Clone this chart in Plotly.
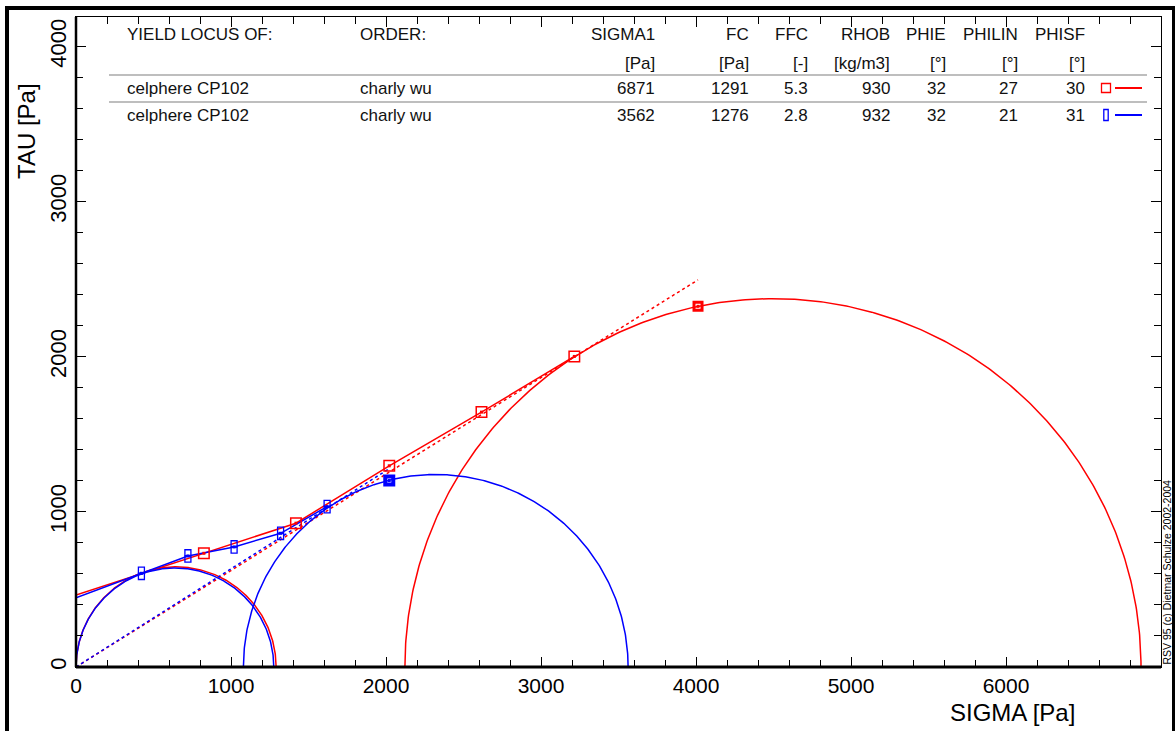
import numpy as np
import plotly.graph_objects as go

# ---- sample table -------------------------------------------------------
SAMPLES = ["celphere CP102", "celphere CP102"]
OPERATOR = ["charly wu", "charly wu"]
SIGMA1 = [6871, 3562]      # major principal stress at steady state [Pa]
SIGMA2 = [2122, 1080]      # minor principal stress at steady state [Pa]
FC = [1291, 1276]          # unconfined yield strength [Pa]
FFC = [5.3, 2.8]
RHOB = [930, 932]
PHIE = [32, 32]
PHILIN = [27, 21]
PHISF = [30, 31]

# ---- shear test points (normal stress / shear stress) [Pa] ---------------
RED_SIGMA = [825, 1419, 2021, 2616, 3215]
RED_TAU = [733, 927, 1297, 1643, 2002]
RED_PRESHEAR = [4013, 2325]
BLUE_SIGMA = [422, 722, 1020, 1320, 1620]
BLUE_TAU = [604, 716, 774, 862, 1034]
BLUE_PRESHEAR = [2021, 1202]

X_TICKS = [0, 1000, 2000, 3000, 4000, 5000, 6000]
Y_TICKS = [0, 1000, 2000, 3000, 4000]

COLORS = ["#ff0000", "#0000ff"]
FONT = "Liberation Sans, Arial, sans-serif"

W, H = 1175, 731
L, R, T, B = 76, 14, 17, 64
X_RANGE = [0, 7000]
Y_RANGE = [0, 4190]
PW, PH = W - L - R, H - T - B
TAU_PER_PX = (Y_RANGE[1] - Y_RANGE[0]) / PH


def px(xp):
    return (xp - L) / PW


def py(yp):
    return (H - B - yp) / PH


def semicircle(lo, hi, n=400):
    c, r = (lo + hi) / 2, (hi - lo) / 2
    th = np.linspace(np.pi, 0, n)
    return c + r * np.cos(th), r * np.sin(th)


def effective_slope(lo, hi):
    c, r = (lo + hi) / 2, (hi - lo) / 2
    s = r / c
    return s / np.sqrt(1 - s * s)


fig = go.Figure()

series = [
    (RED_SIGMA, RED_TAU, RED_PRESHEAR),
    (BLUE_SIGMA, BLUE_TAU, BLUE_PRESHEAR),
]

for i, (sig, tau, pre) in enumerate(series):
    col = COLORS[i]
    # Mohr circles: unconfined yield strength and steady-state flow
    for lo, hi in [(0, FC[i]), (SIGMA2[i], SIGMA1[i])]:
        cx, cy = semicircle(lo, hi)
        fig.add_trace(go.Scatter(x=cx, y=cy, mode="lines",
                                 line=dict(color=col, width=1.5),
                                 hoverinfo="skip", showlegend=False))
    # effective yield locus through the origin
    k = effective_slope(SIGMA2[i], SIGMA1[i])
    fig.add_trace(go.Scatter(x=[0, pre[0]], y=[0, k * pre[0]], mode="lines",
                             line=dict(color=col, width=1.5, dash="dot"),
                             hoverinfo="skip", showlegend=False))
    # yield locus: measured points, extended to sigma = 0
    slope0 = (tau[1] - tau[0]) / (sig[1] - sig[0])
    tau0 = tau[0] - slope0 * sig[0]
    fig.add_trace(go.Scatter(x=[0] + sig, y=[tau0] + tau, mode="lines",
                             line=dict(color=col, width=1.5),
                             hoverinfo="skip", showlegend=False))

# red shear points
fig.add_trace(go.Scatter(x=RED_SIGMA, y=RED_TAU, mode="markers",
                         marker=dict(symbol="square-open", size=10.5, color=COLORS[0],
                                     line=dict(width=1.5, color=COLORS[0])),
                         showlegend=False))
fig.add_trace(go.Scatter(x=[RED_PRESHEAR[0]], y=[RED_PRESHEAR[1]], mode="markers",
                         marker=dict(symbol="square-open", size=8, color=COLORS[0],
                                     line=dict(width=3, color=COLORS[0])),
                         showlegend=False))

# blue shear points: narrow upright boxes (two stacked cells)
off = 3.2 * TAU_PER_PX
for d in (-off, off):
    fig.add_trace(go.Scatter(x=BLUE_SIGMA, y=[t + d for t in BLUE_TAU], mode="markers",
                             marker=dict(symbol="square-open", size=6, color=COLORS[1],
                                         line=dict(width=1.3, color=COLORS[1])),
                             showlegend=False))
fig.add_trace(go.Scatter(x=[BLUE_PRESHEAR[0]], y=[BLUE_PRESHEAR[1]], mode="markers",
                         marker=dict(symbol="square-open", size=8, color=COLORS[1],
                                     line=dict(width=4, color=COLORS[1])),
                         showlegend=False))

# centre dots of all points
fig.add_trace(go.Scatter(x=RED_SIGMA + [RED_PRESHEAR[0]], y=RED_TAU + [RED_PRESHEAR[1]],
                         mode="markers", marker=dict(symbol="square", size=3, color=COLORS[0]),
                         showlegend=False))
fig.add_trace(go.Scatter(x=BLUE_SIGMA + [BLUE_PRESHEAR[0]], y=BLUE_TAU + [BLUE_PRESHEAR[1]],
                         mode="markers", marker=dict(symbol="square", size=3, color=COLORS[1]),
                         showlegend=False))

# ---- table ---------------------------------------------------------------
ann = []
tfont = dict(family=FONT, size=17, color="#111111")


def cell(text, xp, yp, anchor):
    ann.append(dict(text=text, x=px(xp), y=py(yp), xref="paper", yref="paper",
                    xanchor=anchor, yanchor="middle", showarrow=False, font=tfont))


ROW_Y = [88, 115]
cell("YIELD LOCUS OF:", 125, 34, "left")
cell("ORDER:", 358, 34, "left")
num_cols = [
    ("SIGMA1", "[Pa]", 657, SIGMA1, "{:d}"),
    ("FC", "[Pa]", 751, FC, "{:d}"),
    ("FFC", "[-]", 810, FFC, "{:.1f}"),
    ("RHOB", "[kg/m3]", 892, RHOB, "{:d}"),
    ("PHIE", "[°]", 948, PHIE, "{:d}"),
    ("PHILIN", "[°]", 1020, PHILIN, "{:d}"),
    ("PHISF", "[°]", 1087, PHISF, "{:d}"),
]
for head, unit, xr, vals, fmt in num_cols:
    cell(head, xr, 34, "right")
    cell(unit, xr, 63, "right")
    for j, v in enumerate(vals):
        cell(fmt.format(v), xr, ROW_Y[j], "right")
for j in range(2):
    cell(SAMPLES[j], 125, ROW_Y[j], "left")
    cell(OPERATOR[j], 358, ROW_Y[j], "left")

shapes = []
for yl in (75, 102):
    shapes.append(dict(type="line", xref="paper", yref="paper",
                       x0=px(109), x1=px(1147), y0=py(yl), y1=py(yl),
                       line=dict(color="#a8a8a8", width=1.5)))
# legend keys
for j, (w2, h2) in enumerate([(4.5, 4.5), (2.2, 5.5)]):
    cxp, cyp = 1106, ROW_Y[j]
    shapes.append(dict(type="rect", xref="paper", yref="paper",
                       x0=px(cxp - w2), x1=px(cxp + w2), y0=py(cyp + h2), y1=py(cyp - h2),
                       line=dict(color=COLORS[j], width=1.3)))
    shapes.append(dict(type="line", xref="paper", yref="paper",
                       x0=px(1115), x1=px(1142), y0=py(cyp), y1=py(cyp),
                       line=dict(color=COLORS[j], width=2)))

# heavy bottom and left axis lines
shapes.append(dict(type="line", xref="paper", yref="paper", x0=0, x1=1, y0=0, y1=0,
                   line=dict(color="black", width=3), layer="above"))
shapes.append(dict(type="line", xref="paper", yref="paper", x0=0, x1=0, y0=0, y1=1,
                   line=dict(color="black", width=2.5), layer="above"))
# outer frame
shapes.append(dict(type="rect", xref="paper", yref="paper",
                   x0=px(7), x1=px(1174), y0=py(760), y1=py(8),
                   line=dict(color="black", width=4)))

# axis titles and credit line
ann.append(dict(text="TAU [Pa]", x=px(26), y=py(131), xref="paper", yref="paper",
                textangle=-90, showarrow=False, xanchor="center", yanchor="middle",
                font=dict(family=FONT, size=24, color="black")))
ann.append(dict(text="SIGMA [Pa]", x=px(1012), y=py(712), xref="paper", yref="paper",
                showarrow=False, xanchor="center", yanchor="middle",
                font=dict(family=FONT, size=24, color="black")))
ann.append(dict(text="RSV 95 (c) Dietmar Schulze 2002-2004", x=px(1166), y=py(667),
                xref="paper", yref="paper", textangle=-90, showarrow=False,
                xanchor="center", yanchor="bottom",
                font=dict(family=FONT, size=10.5, color="black")))

axis_common = dict(showgrid=False, zeroline=False, showline=True, linecolor="black",
                   linewidth=1.2, mirror="ticks", ticks="inside", ticklen=10,
                   tickwidth=1.3, tickcolor="black",
                   minor=dict(ticks="inside", ticklen=7, tickwidth=1.2,
                              tickcolor="black", dtick=200, showgrid=False))

fig.update_layout(
    width=W, height=H,
    margin=dict(l=L, r=R, t=T, b=B),
    paper_bgcolor="white", plot_bgcolor="white",
    showlegend=False,
    annotations=ann, shapes=shapes,
    xaxis=dict(range=X_RANGE, tickvals=X_TICKS, ticktext=[str(v) for v in X_TICKS],
               tickfont=dict(family=FONT, size=21, color="black"), **axis_common),
    yaxis=dict(range=Y_RANGE, tickvals=Y_TICKS, ticktext=[str(v) for v in Y_TICKS],
               tickangle=-90,
               tickfont=dict(family=FONT, size=22, color="black"), **axis_common),
)

fig.write_html("out.html")
